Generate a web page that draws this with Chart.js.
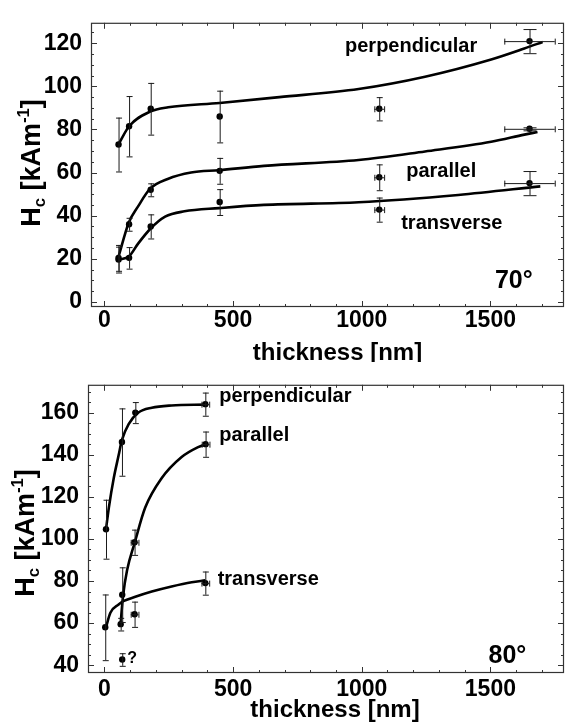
<!DOCTYPE html>
<html>
<head>
<meta charset="utf-8">
<script src="https://cdn.jsdelivr.net/npm/chart.js@4.4.1/dist/chart.umd.min.js"></script>
<style>
html,body{margin:0;padding:0;background:#fff;}
body{position:relative;width:568px;height:722px;overflow:hidden;}
canvas{display:block;position:absolute;left:0;}
</style>
</head>
<body>
<canvas id="c70" width="568" height="362" style="top:0px"></canvas>
<canvas id="c80" width="568" height="360" style="top:362px"></canvas>
<script>
// ================= DATA =================
// ---- 70° panel: measured points ----
const thickness70    = [55, 96, 180, 448, 1068, 1652];
const thicknessErr70 = [0, 0, 0, 0, 19, 98];
const perp70    = [73, 81.5, 89.6, 86, 89.6, 121];
const perp70Err = [12.5, 14, 12, 12, 5.4, 5.6];
const par70     = [20.4, 36, 52, 60.8, 57.8, 80.3];
const par70Err  = [6, 3, 3, 6, 6, 0.7];
const trans70   = [19.6, 20.4, 35, 46.3, 42.8, 55.1];
const trans70Err= [6, 5, 5.6, 6, 5.6, 5.6];
// ---- 70° panel: fitted curves ----
const perpFit70X  = [55, 96, 178, 248, 448, 680, 988, 1246, 1503, 1632, 1703];
const perpFit70Y  = [73.1, 81.5, 88.3, 90.3, 92.3, 95, 98.8, 104.5, 112.5, 117.6, 120.6];
const parFit70X   = [55, 95, 131, 178, 246, 337, 446, 620, 988, 1246, 1503, 1632, 1683];
const parFit70Y   = [21, 36.8, 44.3, 52.5, 57, 60, 61.1, 63.1, 65.8, 69.8, 74.3, 77.6, 78.8];
const transFit70X = [55, 95, 131, 178, 236, 311, 446, 620, 988, 1375, 1694];
const transFit70Y = [19.6, 21, 27, 33.8, 39.5, 42, 43.5, 45, 46.2, 49.6, 53.6];
const xTicks70 = [0, 500, 1000, 1500];
const yTicks70 = [0, 20, 40, 60, 80, 100, 120];

// ---- 80° panel: measured points ----
const perp80X    = [6, 68, 120, 392];
const perp80XErr = [0, 0, 0, 15];
const perp80     = [104.6, 146, 160, 164];
const perp80Err  = [14, 16, 5, 5.5];
const par80X     = [63, 69, 117, 393];
const par80XErr  = [0, 0, 15, 15];
const par80      = [59.5, 73.5, 98.4, 145];
const par80Err   = [3, 13, 6, 6];
const trans80X   = [3, 117, 392];
const trans80XErr= [0, 15, 15];
const trans80    = [58, 64.2, 79];
const trans80Err = [15.6, 6, 5.5];
const doubt80X   = [69];
const doubt80    = [42.7];
const doubt80Err = [3];
// ---- 80° panel: fitted curves ----
const perpFit80X  = [6, 17, 36, 55, 68, 94, 132, 184, 261, 392];
const perpFit80Y  = [104.6, 114.8, 128.8, 139.7, 147, 154.5, 160, 162.3, 163.4, 163.8];
const parFit80X   = [62, 72, 88, 117, 158, 222, 300, 364, 396];
const parFit80Y   = [58.7, 72.7, 85.2, 98, 114.8, 128.8, 138.9, 143.6, 145.1];
const transFit80X = [5, 23, 55, 73, 120, 184, 261, 339, 392];
const transFit80Y = [57.6, 64.9, 68.8, 70.4, 72.5, 75, 77.4, 79.4, 80.3];
const xTicks80 = [0, 500, 1000, 1500];
const yTicks80 = [40, 60, 80, 100, 120, 140, 160];

// ================= HELPERS =================
const FONT = '"Liberation Sans", Arial, sans-serif';
Chart.defaults.font.family = FONT;
Chart.defaults.color = '#000';

const zip = (xs, ys) => xs.map((x, i) => ({x, y: ys[i]}));

function curve(xs, ys) {
  return {data: zip(xs, ys), showLine: true, pointRadius: 0, borderColor: '#000',
          borderWidth: 2.6, cubicInterpolationMode: 'monotone', fill: false};
}
function points(xs, ys, errY, errX) {
  return {data: zip(xs, ys), showLine: false, pointRadius: 3.2, pointStyle: 'circle',
          backgroundColor: '#000', borderColor: '#000', borderWidth: 0,
          errY: errY, errX: errX || xs.map(() => 0)};
}

// error bars, frame with inward ticks, in-plot labels, axis titles
const decorPlugin = {
  id: 'decor',
  afterDatasetsDraw(chart, args, o) {
    const ctx = chart.ctx, xs = chart.scales.x, ys = chart.scales.y, a = chart.chartArea;
    ctx.save();
    // error bars
    ctx.strokeStyle = '#1a1a1a';
    ctx.lineWidth = 1;
    chart.data.datasets.forEach(ds => {
      if (!ds.errY) return;
      ds.data.forEach((p, i) => {
        const px = xs.getPixelForValue(p.x), py = ys.getPixelForValue(p.y);
        const ey = ds.errY[i], ex = ds.errX[i];
        const cap = ex > 50 ? 6 : 2.5;
        ctx.beginPath();
        if (ey > 0) {
          const y1 = ys.getPixelForValue(p.y + ey), y2 = ys.getPixelForValue(p.y - ey);
          ctx.moveTo(px + 0.5, y1); ctx.lineTo(px + 0.5, y2);
          ctx.moveTo(px - cap, y1 + 0.5); ctx.lineTo(px + cap + 1, y1 + 0.5);
          ctx.moveTo(px - cap, y2 + 0.5); ctx.lineTo(px + cap + 1, y2 + 0.5);
        }
        if (ex > 0) {
          const x1 = xs.getPixelForValue(p.x - ex), x2 = xs.getPixelForValue(p.x + ex);
          ctx.moveTo(x1, py + 0.5); ctx.lineTo(x2, py + 0.5);
          ctx.moveTo(x1 + 0.5, py - 2.5); ctx.lineTo(x1 + 0.5, py + 3.5);
          ctx.moveTo(x2 + 0.5, py - 2.5); ctx.lineTo(x2 + 0.5, py + 3.5);
        }
        ctx.stroke();
      });
    });
    // frame
    ctx.strokeStyle = '#333';
    ctx.lineWidth = 1.2;
    ctx.strokeRect(a.left + 0.5, a.top + 0.5, a.right - a.left - 1, a.bottom - a.top - 1);
    // inward ticks
    ctx.lineWidth = 1;
    ctx.beginPath();
    for (let v = Math.ceil(xs.min / o.xMinor) * o.xMinor; v <= xs.max; v += o.xMinor) {
      const px = Math.round(xs.getPixelForValue(v)) + 0.5;
      const len = (v % o.xMajor === 0) ? 6 : 3;
      ctx.moveTo(px, a.bottom); ctx.lineTo(px, a.bottom - len);
      ctx.moveTo(px, a.top); ctx.lineTo(px, a.top + len);
    }
    for (let v = Math.ceil(ys.min / o.yMinor) * o.yMinor; v <= ys.max; v += o.yMinor) {
      const py = Math.round(ys.getPixelForValue(v)) + 0.5;
      const len = (v % o.yMajor === 0) ? 6 : 3;
      ctx.moveTo(a.left, py); ctx.lineTo(a.left + len, py);
      ctx.moveTo(a.right, py); ctx.lineTo(a.right - len, py);
    }
    ctx.stroke();
    // in-plot labels
    ctx.fillStyle = '#000';
    ctx.textBaseline = 'alphabetic';
    o.labels.forEach(l => {
      ctx.font = `bold ${l.size}px ${FONT}`;
      ctx.textAlign = l.align;
      ctx.fillText(l.text, xs.getPixelForValue(l.x), ys.getPixelForValue(l.y));
    });
    // x title
    ctx.font = `bold ${o.xTitleSize}px ${FONT}`;
    ctx.textAlign = 'center';
    ctx.fillText(o.xTitle, (a.left + a.right) / 2 + o.xTitleShift, o.xTitleBaseline);
    // y title  H_c [kAm^-1]
    const parts = [['H', 1, 0], ['c', 0.62, 0.2], [' [kAm', 1, 0], ['-1', 0.62, -0.42], [']', 1, 0]];
    const sz = o.yTitleSize;
    let total = 0;
    parts.forEach(([t, s]) => { ctx.font = `bold ${sz * s}px ${FONT}`; total += ctx.measureText(t).width; });
    ctx.translate(o.yTitleBaseline, o.yTitleCenter);
    ctx.rotate(-Math.PI / 2);
    ctx.textAlign = 'left';
    let cx = -total / 2;
    parts.forEach(([t, s, dy]) => {
      ctx.font = `bold ${sz * s}px ${FONT}`;
      ctx.fillText(t, cx, dy * sz);
      cx += ctx.measureText(t).width;
    });
    ctx.restore();
  }
};

function makeChart(id, datasets, sc, decor) {
  return new Chart(document.getElementById(id), {
    type: 'scatter',
    data: {datasets},
    plugins: [decorPlugin],
    options: {
      responsive: false, animation: false, devicePixelRatio: 1,
      layout: {padding: sc.padding},
      plugins: {legend: {display: false}, tooltip: {enabled: false}, decor},
      scales: {
        x: {
          type: 'linear', min: sc.xMin, max: sc.xMax,
          afterBuildTicks: s => { s.ticks = sc.xTicks.map(v => ({value: v})); },
          afterFit: s => { s.height = sc.xHeight; },
          grid: {display: false, drawTicks: false}, border: {display: false},
          ticks: {font: {size: 23, weight: 'bold'}, color: '#000', padding: sc.xPad,
                  maxRotation: 0, autoSkip: false, callback: v => String(v)}
        },
        y: {
          type: 'linear', min: sc.yMin, max: sc.yMax,
          afterBuildTicks: s => { s.ticks = sc.yTicks.map(v => ({value: v})); },
          afterFit: s => { s.width = sc.yWidth; },
          grid: {display: false, drawTicks: false}, border: {display: false},
          ticks: {font: {size: 23, weight: 'bold'}, color: '#000', padding: 9,
                  callback: v => String(v)}
        }
      }
    }
  });
}

// ================= 70° =================
makeChart('c70', [
  curve(perpFit70X, perpFit70Y),
  curve(parFit70X, parFit70Y),
  curve(transFit70X, transFit70Y),
  points(thickness70, perp70, perp70Err, thicknessErr70),
  points(thickness70, par70, par70Err, thicknessErr70),
  points(thickness70, trans70, trans70Err, thicknessErr70)
], {
  padding: {top: 14, right: 1, left: 0, bottom: 0},
  xMin: -52, xMax: 1786, yMin: -2.4, yMax: 129.5,
  xTicks: xTicks70, yTicks: yTicks70, xHeight: 55, yWidth: 91, xPad: 0
}, {
  xMinor: 100, xMajor: 500, yMinor: 5, yMajor: 20,
  labels: [
    {text: 'perpendicular', x: 1192, y: 116, align: 'center', size: 20},
    {text: 'parallel', x: 1309, y: 57.9, align: 'center', size: 20},
    {text: 'transverse', x: 1350, y: 33.8, align: 'center', size: 20},
    {text: '70°', x: 1591, y: 6.6, align: 'center', size: 25}
  ],
  xTitle: 'thickness [nm]', xTitleSize: 24, xTitleShift: 10, xTitleBaseline: 360,
  yTitleSize: 27, yTitleBaseline: 40, yTitleCenter: 163
});

// ================= 80° =================
makeChart('c80', [
  curve(perpFit80X, perpFit80Y),
  curve(parFit80X, parFit80Y),
  curve(transFit80X, transFit80Y),
  points(perp80X, perp80, perp80Err, perp80XErr),
  points(par80X, par80, par80Err, par80XErr),
  points(trans80X, trans80, trans80Err, trans80XErr),
  points(doubt80X, doubt80, doubt80Err)
], {
  padding: {top: 18, right: 1, left: 0, bottom: 0},
  xMin: -64, xMax: 1786, yMin: 36.3, yMax: 173.2,
  xTicks: xTicks80, yTicks: yTicks80, xHeight: 49, yWidth: 88, xPad: 3
}, {
  xMinor: 100, xMajor: 500, yMinor: 5, yMajor: 20,
  labels: [
    {text: 'perpendicular', x: 446, y: 165.1, align: 'left', size: 20},
    {text: 'parallel', x: 446, y: 146.5, align: 'left', size: 20},
    {text: 'transverse', x: 440, y: 78, align: 'left', size: 20},
    {text: '80°', x: 1566, y: 40.9, align: 'center', size: 25},
    {text: '?', x: 89, y: 40.9, align: 'left', size: 16}
  ],
  xTitle: 'thickness [nm]', xTitleSize: 24, xTitleShift: 9, xTitleBaseline: 355,
  yTitleSize: 27, yTitleBaseline: 34, yTitleCenter: 171
});
</script>
</body>
</html>
